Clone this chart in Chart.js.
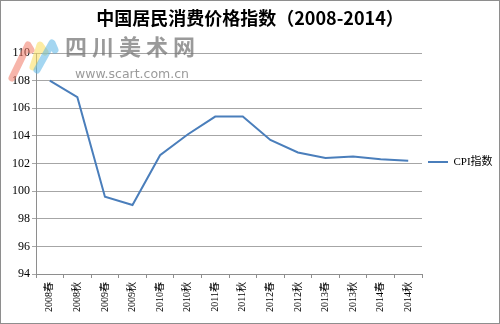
<!DOCTYPE html>
<html>
<head>
<meta charset="utf-8">
<script src="https://cdn.jsdelivr.net/npm/chart.js@4/dist/chart.umd.min.js"></script>
<style>
  html, body { margin: 0; padding: 0; background: #fff; }
  #box { width: 500px; height: 324px; box-sizing: border-box; border: 1px solid #8e8e8e; }
  canvas { display: block; }
</style>
</head>
<body>
<div id="box"><canvas id="cpi" width="498" height="322"></canvas></div>
<script>
const categories = ['2008春', '2008秋', '2009春', '2009秋', '2010春', '2010秋', '2011春',
                    '2011秋', '2012春', '2012秋', '2013春', '2013秋', '2014春', '2014秋'];
const cpiValues = [108.0, 106.8, 99.6, 99.0, 102.6, 104.1, 105.4,
                   105.4, 103.7, 102.8, 102.4, 102.5, 102.3, 102.2];
const yTicks = [94, 96, 98, 100, 102, 104, 106, 108, 110];

// site watermark + logo strokes over the top-left corner
const watermark = {
    id: 'watermark',
    afterDraw(chart) {
        const ctx = chart.ctx;
        ctx.save();
        ctx.lineWidth = 7;
        ctx.lineCap = 'round';
        ctx.lineJoin = 'round';
        const strokes = [
            ['rgba(240,120,100,0.55)', [[11, 77], [27, 44], [30, 49]]],
            ['rgba(250,220,90,0.55)', [[32, 66], [39, 44], [44, 51]]],
            ['rgba(90,180,230,0.55)', [[36, 69], [51, 42], [54, 49]]],
        ];
        strokes.forEach(([c, pts]) => {
            ctx.strokeStyle = c;
            ctx.beginPath();
            pts.forEach(([x, y], i) => i ? ctx.lineTo(x, y) : ctx.moveTo(x, y));
            ctx.stroke();
        });
        ctx.fillStyle = 'rgba(120,120,120,0.75)';
        ctx.font = 'bold 22px "Noto Sans CJK SC"';
        ctx.textBaseline = 'middle';
        ctx.fillText('四 川 美 术 网', 64, 46);
        ctx.font = '12.5px "DejaVu Sans"';
        ctx.fillText('www.scart.com.cn', 74, 74);
        ctx.restore();
    }
};

const ctx = document.getElementById('cpi').getContext('2d');
new Chart(ctx, {
    type: 'line',
    data: {
        labels: categories,
        datasets: [{
            label: 'CPI指数',
            data: cpiValues,
            borderColor: '#4a7ebb',
            backgroundColor: '#4a7ebb',
            borderWidth: 2,
            pointRadius: 0,
            tension: 0,
        }],
    },
    options: {
        responsive: false,
        animation: false,
        layout: { padding: { left: 0, right: 0, top: 0, bottom: 0 } },
        plugins: {
            title: {
                display: true,
                text: '中国居民消费价格指数（2008-2014）',
                color: '#000',
                font: { family: '"Noto Sans CJK SC"', size: 18, weight: 'bold' },
                padding: { top: 6, bottom: 24.4 },
            },
            legend: {
                position: 'right',
                align: 'center',
                maxWidth: 77,
                labels: {
                    usePointStyle: true,
                    pointStyle: 'line',
                    pointStyleWidth: 20,
                    color: '#000',
                    font: { family: '"Liberation Serif", "Noto Sans CJK SC"', size: 11 },
                    padding: 6,
                },
            },
            tooltip: { enabled: false },
        },
        scales: {
            x: {
                offset: true,
                afterFit: (axis) => { axis.height = 49; },
                grid: { display: true, drawOnChartArea: false, drawTicks: true, tickLength: 4, color: '#8e8e8e', offset: true },
                border: { color: '#8e8e8e' },
                ticks: {
                    color: '#000',
                    minRotation: 90,
                    maxRotation: 90,
                    font: { family: '"Liberation Serif", "Noto Sans CJK SC"', size: 10 },
                    padding: 4,
                },
            },
            y: {
                min: 94,
                max: 110,
                afterFit: (axis) => { axis.width = 35; },
                afterBuildTicks: (axis) => { axis.ticks = yTicks.map(v => ({ value: v })); },
                grid: { color: '#a6a6a6', lineWidth: 1, tickLength: 4 },
                border: { color: '#8e8e8e' },
                ticks: {
                    color: '#000',
                    font: { family: '"Liberation Serif"', size: 12 },
                    padding: 2,
                },
            },
        },
    },
    plugins: [watermark],
});
</script>
</body>
</html>
